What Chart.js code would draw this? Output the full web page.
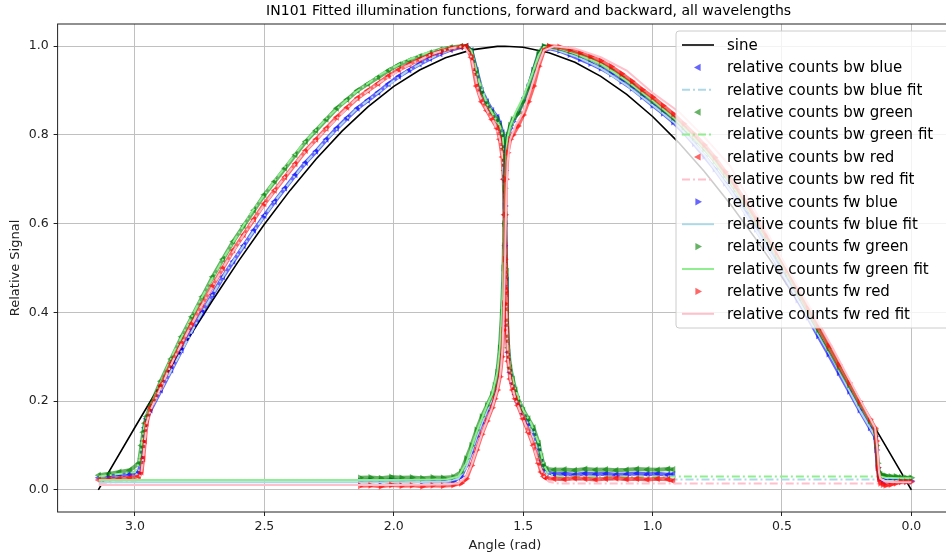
<!DOCTYPE html>
<html>
<head>
<meta charset="utf-8">
<script src="https://cdn.jsdelivr.net/npm/chart.js@4.4.1/dist/chart.umd.min.js"></script>
<style>
  html, body { margin: 0; padding: 0; overflow: hidden; background: #fff; }
</style>
</head>
<body>
<canvas id="illumChart" width="956" height="559"></canvas>
<script>
// ---- data ----
const xTicks = [0, 0.5, 1.0, 1.5, 2.0, 2.5, 3.0];
const yTicks = [0, 0.2, 0.4, 0.6, 0.8, 1.0];

const sineX = [3.1416, 3.0, 2.9, 2.8, 2.7, 2.6, 2.5, 2.4, 2.3, 2.2, 2.1, 2.0, 1.9, 1.8, 1.7, 1.6, 1.5708, 1.5, 1.4, 1.3, 1.2, 1.1, 1.0, 0.9, 0.8, 0.7, 0.6, 0.5, 0.4, 0.3, 0.2, 0.1, 0.0];
const sineY = [0.0, 0.1411, 0.2392, 0.3350, 0.4274, 0.5155, 0.5985, 0.6755, 0.7457, 0.8085, 0.8632, 0.9093, 0.9463, 0.9738, 0.9917, 0.9996, 1.0, 0.9975, 0.9854, 0.9636, 0.9320, 0.8912, 0.8415, 0.7833, 0.7174, 0.6442, 0.5646, 0.4794, 0.3894, 0.2955, 0.1987, 0.0998, 0.0];

// backward scan (left-pointing markers)
const bwX = [3.14, 3.10, 3.06, 3.02, 2.985, 2.975, 2.968, 2.962, 2.955,
  2.94, 2.90, 2.86, 2.82, 2.78, 2.74, 2.70, 2.66, 2.62, 2.58, 2.54, 2.50, 2.46, 2.42, 2.38, 2.34, 2.30, 2.26, 2.22, 2.18, 2.14, 2.10, 2.06, 2.02, 1.98, 1.94, 1.90, 1.86, 1.82, 1.78, 1.74, 1.72,
  1.70, 1.68, 1.66, 1.64, 1.62, 1.60, 1.59, 1.58, 1.575, 1.572,
  1.569, 1.566, 1.563, 1.558, 1.55, 1.54, 1.53, 1.52, 1.50, 1.48, 1.46, 1.44, 1.43, 1.42, 1.41,
  1.38, 1.34, 1.30, 1.26, 1.22, 1.18, 1.14, 1.10, 1.06, 1.02, 0.98, 0.94, 0.92];
const bwBlue = [0.027, 0.03, 0.032, 0.035, 0.04, 0.07, 0.11, 0.14, 0.16,
  0.18, 0.225, 0.27, 0.315, 0.36, 0.40, 0.44, 0.48, 0.515, 0.55, 0.585, 0.618, 0.65, 0.68, 0.71, 0.738, 0.763, 0.79, 0.815, 0.838, 0.86, 0.878, 0.896, 0.915, 0.932, 0.946, 0.96, 0.972, 0.983, 0.992, 0.998, 1.0,
  0.99, 0.945, 0.90, 0.875, 0.855, 0.84, 0.825, 0.805, 0.775, 0.70,
  0.60, 0.48, 0.38, 0.31, 0.265, 0.24, 0.215, 0.198, 0.172, 0.15, 0.13, 0.095, 0.065, 0.048, 0.04,
  0.035, 0.036, 0.034, 0.037, 0.035, 0.036, 0.034, 0.035, 0.037, 0.035, 0.036, 0.034, 0.035];
const bwGreen = [0.033, 0.036, 0.04, 0.044, 0.06, 0.10, 0.13, 0.15, 0.165,
  0.19, 0.245, 0.295, 0.345, 0.39, 0.435, 0.48, 0.52, 0.56, 0.595, 0.63, 0.665, 0.695, 0.725, 0.755, 0.785, 0.81, 0.835, 0.86, 0.88, 0.90, 0.915, 0.93, 0.945, 0.958, 0.968, 0.977, 0.985, 0.992, 0.997, 1.0, 1.0,
  0.99, 0.94, 0.895, 0.87, 0.85, 0.835, 0.82, 0.80, 0.77, 0.72,
  0.62, 0.50, 0.40, 0.32, 0.275, 0.25, 0.225, 0.205, 0.18, 0.16, 0.14, 0.105, 0.075, 0.055, 0.047,
  0.045, 0.046, 0.044, 0.047, 0.045, 0.046, 0.044, 0.045, 0.047, 0.046, 0.045, 0.047, 0.046];
const bwRed = [0.022, 0.024, 0.025, 0.027, 0.03, 0.04, 0.07, 0.11, 0.15,
  0.185, 0.235, 0.285, 0.33, 0.375, 0.418, 0.46, 0.50, 0.54, 0.575, 0.61, 0.645, 0.675, 0.705, 0.735, 0.765, 0.79, 0.815, 0.84, 0.862, 0.883, 0.90, 0.916, 0.933, 0.947, 0.959, 0.97, 0.98, 0.988, 0.995, 0.999, 1.0,
  0.975, 0.91, 0.875, 0.855, 0.835, 0.815, 0.79, 0.75, 0.70, 0.62,
  0.55, 0.45, 0.36, 0.29, 0.25, 0.225, 0.205, 0.19, 0.16, 0.13, 0.10, 0.06, 0.04, 0.03, 0.026,
  0.025, 0.024, 0.026, 0.025, 0.023, 0.025, 0.026, 0.024, 0.025, 0.023, 0.025, 0.024, 0.02];

const bwFitX = [3.14, 3.0, 2.985, 2.975, 2.965, 2.955, 2.94, 2.85, 2.75, 2.65, 2.55, 2.45, 2.35, 2.25, 2.15, 2.05, 1.95, 1.85, 1.78, 1.73, 1.70, 1.67, 1.64, 1.61, 1.59, 1.58, 1.575, 1.57, 1.565, 1.56, 1.55, 1.53, 1.50, 1.47, 1.44, 1.42, 1.40, 1.36, 1.2, 0.9, 0.6, 0.3, 0.0];
const bwBlueFit = [0.025, 0.03, 0.04, 0.07, 0.12, 0.16, 0.18, 0.28, 0.39, 0.49, 0.576, 0.658, 0.731, 0.796, 0.855, 0.90, 0.943, 0.975, 0.992, 1.0, 0.99, 0.925, 0.875, 0.848, 0.825, 0.805, 0.775, 0.68, 0.46, 0.32, 0.265, 0.215, 0.172, 0.137, 0.085, 0.045, 0.028, 0.023, 0.023, 0.023, 0.023, 0.023, 0.023];
const bwGreenFit = [0.03, 0.04, 0.06, 0.10, 0.14, 0.165, 0.19, 0.31, 0.425, 0.53, 0.625, 0.705, 0.78, 0.843, 0.895, 0.937, 0.968, 0.99, 0.998, 1.0, 0.99, 0.92, 0.87, 0.84, 0.82, 0.80, 0.77, 0.68, 0.48, 0.34, 0.275, 0.225, 0.18, 0.15, 0.105, 0.055, 0.035, 0.03, 0.03, 0.03, 0.03, 0.03, 0.03];
const bwRedFit = [0.015, 0.02, 0.025, 0.04, 0.09, 0.15, 0.18, 0.295, 0.407, 0.51, 0.602, 0.683, 0.758, 0.82, 0.878, 0.92, 0.955, 0.983, 0.995, 1.0, 0.975, 0.89, 0.855, 0.825, 0.79, 0.75, 0.70, 0.58, 0.42, 0.30, 0.25, 0.205, 0.16, 0.115, 0.06, 0.03, 0.018, 0.014, 0.014, 0.014, 0.014, 0.014, 0.014];

// forward scan (right-pointing markers)
const fwX = [2.13, 2.09, 2.05, 2.01, 1.97, 1.93, 1.89, 1.85, 1.81, 1.77,
  1.74, 1.72, 1.70, 1.68, 1.66, 1.64, 1.62, 1.61, 1.60, 1.59, 1.582, 1.576, 1.573, 1.571, 1.569, 1.566,
  1.56, 1.55, 1.54, 1.52, 1.50, 1.48, 1.46, 1.44,
  1.42, 1.40, 1.36, 1.32, 1.28, 1.24, 1.20, 1.16, 1.12, 1.08, 1.04, 1.00, 0.96, 0.92, 0.88, 0.84, 0.80, 0.76, 0.72, 0.68, 0.64, 0.60, 0.56, 0.52, 0.48, 0.44, 0.40, 0.36, 0.32, 0.28, 0.24, 0.20, 0.16, 0.14,
  0.135, 0.13, 0.125, 0.12, 0.11, 0.10, 0.08, 0.06, 0.04, 0.02, 0.0];
const fwBlue = [0.02, 0.021, 0.019, 0.022, 0.02, 0.021, 0.019, 0.02, 0.021, 0.02,
  0.03, 0.055, 0.085, 0.12, 0.15, 0.178, 0.205, 0.225, 0.255, 0.30, 0.37, 0.46, 0.55, 0.64, 0.72, 0.77,
  0.795, 0.815, 0.83, 0.852, 0.878, 0.908, 0.945, 0.98,
  0.998, 0.995, 0.99, 0.981, 0.971, 0.961, 0.95, 0.937, 0.921, 0.905, 0.886, 0.867, 0.849, 0.829, 0.806, 0.78, 0.752, 0.723, 0.691, 0.659, 0.624, 0.587, 0.549, 0.51, 0.47, 0.428, 0.389, 0.347, 0.306, 0.264, 0.222, 0.18, 0.14, 0.12,
  0.09, 0.05, 0.03, 0.025, 0.022, 0.02, 0.02, 0.02, 0.02, 0.02, 0.02];
const fwGreen = [0.027, 0.028, 0.026, 0.029, 0.027, 0.028, 0.026, 0.028, 0.027, 0.029,
  0.04, 0.07, 0.10, 0.135, 0.165, 0.19, 0.215, 0.235, 0.265, 0.32, 0.40, 0.50, 0.60, 0.68, 0.75, 0.785,
  0.80, 0.822, 0.835, 0.848, 0.875, 0.905, 0.945, 0.985,
  1.0, 0.999, 0.995, 0.988, 0.98, 0.971, 0.96, 0.947, 0.931, 0.914, 0.895, 0.877, 0.858, 0.839, 0.817, 0.794, 0.769, 0.741, 0.709, 0.677, 0.641, 0.603, 0.565, 0.527, 0.487, 0.445, 0.403, 0.361, 0.319, 0.277, 0.236, 0.195, 0.155, 0.135,
  0.10, 0.06, 0.04, 0.035, 0.033, 0.032, 0.03, 0.03, 0.028, 0.027, 0.027];
const fwRed = [0.009, 0.01, 0.008, 0.011, 0.009, 0.01, 0.008, 0.01, 0.009, 0.011,
  0.015, 0.025, 0.055, 0.09, 0.125, 0.155, 0.185, 0.205, 0.225, 0.255, 0.30, 0.36, 0.42, 0.52, 0.62, 0.70,
  0.76, 0.79, 0.80, 0.82, 0.845, 0.875, 0.91, 0.955,
  0.99, 1.0, 0.998, 0.992, 0.985, 0.977, 0.967, 0.954, 0.938, 0.921, 0.902, 0.885, 0.866, 0.847, 0.825, 0.802, 0.777, 0.749, 0.717, 0.685, 0.649, 0.611, 0.573, 0.535, 0.495, 0.452, 0.409, 0.367, 0.325, 0.282, 0.241, 0.199, 0.159, 0.139,
  0.11, 0.05, 0.025, 0.015, 0.012, 0.01, 0.012, 0.015, 0.018, 0.018, 0.018];

const fwFitX = [3.14, 2.5, 2.0, 1.80, 1.75, 1.72, 1.70, 1.68, 1.66, 1.64, 1.62, 1.60, 1.59, 1.585, 1.58, 1.575, 1.57, 1.565, 1.56, 1.55, 1.53, 1.50, 1.47, 1.44, 1.42, 1.38, 1.3, 1.2, 1.1, 1.0, 0.9, 0.8, 0.7, 0.6, 0.5, 0.4, 0.3, 0.2, 0.16, 0.14, 0.13, 0.125, 0.12, 0.1, 0.05, 0.0];
const fwBlueFit = [0.017, 0.017, 0.017, 0.018, 0.025, 0.05, 0.085, 0.12, 0.15, 0.178, 0.205, 0.255, 0.30, 0.35, 0.42, 0.52, 0.65, 0.745, 0.785, 0.812, 0.842, 0.878, 0.925, 0.975, 0.996, 0.993, 0.978, 0.95, 0.912, 0.867, 0.82, 0.755, 0.675, 0.585, 0.49, 0.39, 0.29, 0.18, 0.14, 0.12, 0.07, 0.035, 0.025, 0.02, 0.02, 0.02];
const fwGreenFit = [0.022, 0.022, 0.022, 0.023, 0.03, 0.06, 0.095, 0.13, 0.16, 0.19, 0.215, 0.265, 0.32, 0.37, 0.44, 0.55, 0.68, 0.765, 0.795, 0.82, 0.85, 0.885, 0.93, 0.98, 0.998, 0.998, 0.984, 0.96, 0.922, 0.878, 0.83, 0.77, 0.695, 0.605, 0.508, 0.405, 0.30, 0.197, 0.157, 0.136, 0.08, 0.04, 0.03, 0.027, 0.026, 0.026];
const fwRedFit = [0.011, 0.011, 0.011, 0.012, 0.015, 0.03, 0.055, 0.09, 0.125, 0.155, 0.185, 0.225, 0.255, 0.28, 0.32, 0.40, 0.52, 0.66, 0.74, 0.79, 0.82, 0.85, 0.905, 0.96, 0.99, 1.0, 0.995, 0.975, 0.945, 0.895, 0.853, 0.795, 0.73, 0.625, 0.52, 0.42, 0.315, 0.205, 0.162, 0.14, 0.085, 0.04, 0.025, 0.018, 0.017, 0.017];

const chartTitle = 'IN101 Fitted illumination functions, forward and backward, all wavelengths';

// ---- helpers ----
function pts(xs, ys) {
    return xs.map((x, i) => ({ x: x, y: ys[i] }));
}

const BLUE = 'rgba(0, 0, 255, 0.6)';
const GREEN = 'rgba(0, 128, 0, 0.6)';
const RED = 'rgba(255, 0, 0, 0.6)';
const DASHDOT = [8, 3, 2, 3];

function markerSet(label, xs, ys, color, rot) {
    return {
        label: label, data: pts(xs, ys), kind: 'marker',
        showLine: true, borderColor: color, borderWidth: 4,
        pointStyle: 'triangle', rotation: rot, pointRadius: 4,
        pointBackgroundColor: color, pointBorderWidth: 0
    };
}
function fitSet(label, xs, ys, color, dash) {
    return {
        label: label, data: pts(xs, ys), kind: 'line',
        showLine: true, borderColor: color, borderWidth: 2,
        borderDash: dash, pointRadius: 0
    };
}

const datasets = [
    { label: 'sine', data: pts(sineX, sineY), kind: 'line', showLine: true, borderColor: '#000', borderWidth: 1.6, pointRadius: 0 },
    markerSet('relative counts bw blue', bwX, bwBlue, BLUE, -90),
    fitSet('relative counts bw blue fit', bwFitX, bwBlueFit, '#add8e6', DASHDOT),
    markerSet('relative counts bw green', bwX, bwGreen, GREEN, -90),
    fitSet('relative counts bw green fit', bwFitX, bwGreenFit, '#90ee90', DASHDOT),
    markerSet('relative counts bw red', bwX, bwRed, RED, -90),
    fitSet('relative counts bw red fit', bwFitX, bwRedFit, '#ffc0cb', DASHDOT),
    markerSet('relative counts fw blue', fwX, fwBlue, BLUE, 90),
    fitSet('relative counts fw blue fit', fwFitX, fwBlueFit, '#add8e6', []),
    markerSet('relative counts fw green', fwX, fwGreen, GREEN, 90),
    fitSet('relative counts fw green fit', fwFitX, fwGreenFit, '#90ee90', []),
    markerSet('relative counts fw red', fwX, fwRed, RED, 90),
    fitSet('relative counts fw red fit', fwFitX, fwRedFit, '#ffc0cb', [])
];
// later datasets on top, like the original plot
datasets.forEach((d, i) => { d.order = datasets.length - i; d.tension = 0; });

// frame around the axes, title and legend box
const framePlugin = {
    id: 'frame',
    afterDatasetsDraw(chart) {
        const ctx = chart.ctx, ca = chart.chartArea;
        ctx.save();
        ctx.strokeStyle = '#222';
        ctx.lineWidth = 1;
        ctx.strokeRect(ca.left, ca.top, ca.right - ca.left, ca.bottom - ca.top);
        ctx.restore();
    },
    afterDraw(chart) {
        const ctx = chart.ctx, ca = chart.chartArea;
        ctx.save();
        // title
        ctx.fillStyle = '#000';
        ctx.font = '14px "DejaVu Sans"';
        ctx.textAlign = 'center';
        ctx.textBaseline = 'middle';
        ctx.fillText(chartTitle, ca.left + 471, 11);

        // legend
        const x0 = ca.right - 276, y0 = ca.top + 7, w = 300, h = 297;
        ctx.beginPath();
        ctx.roundRect(x0, y0, w, h, 3);
        ctx.fillStyle = 'rgba(255,255,255,0.8)';
        ctx.fill();
        ctx.strokeStyle = '#cccccc';
        ctx.lineWidth = 1;
        ctx.stroke();
        ctx.font = '15px "DejaVu Sans"';
        ctx.textAlign = 'left';
        chart.data.datasets.forEach((d, i) => {
            const yc = y0 + 14 + i * 22.4;
            if (d.kind === 'marker') {
                ctx.save();
                ctx.translate(x0 + 22, yc);
                ctx.rotate(d.rotation * Math.PI / 180);
                ctx.beginPath();
                ctx.moveTo(0, -4);
                ctx.lineTo(3.6, 2.6);
                ctx.lineTo(-3.6, 2.6);
                ctx.closePath();
                ctx.fillStyle = d.pointBackgroundColor;
                ctx.fill();
                ctx.restore();
            } else {
                ctx.save();
                ctx.strokeStyle = d.borderColor;
                ctx.lineWidth = d.borderWidth;
                ctx.setLineDash(d.borderDash || []);
                ctx.beginPath();
                ctx.moveTo(x0 + 6, yc);
                ctx.lineTo(x0 + 38, yc);
                ctx.stroke();
                ctx.restore();
            }
            ctx.fillStyle = '#000';
            ctx.fillText(d.label, x0 + 51, yc + 1);
        });
        ctx.restore();
    }
};

Chart.defaults.font.family = '"DejaVu Sans", sans-serif';
Chart.defaults.color = '#222';

new Chart(document.getElementById('illumChart'), {
    type: 'scatter',
    data: { datasets: datasets },
    options: {
        responsive: false,
        animation: false,
        events: [],
        layout: { padding: { top: 24, right: 2, left: 0, bottom: 0 } },
        plugins: { legend: { display: false }, tooltip: { enabled: false } },
        scales: {
            x: {
                type: 'linear', reverse: true, min: -0.157, max: 3.299,
                afterBuildTicks: axis => { axis.ticks = xTicks.map(v => ({ value: v })); },
                afterFit: axis => { axis.height = 47; },
                ticks: { callback: v => v.toFixed(1), font: { size: 12.5 }, padding: 3, maxRotation: 0 },
                grid: { color: '#c0c0c0', lineWidth: 1, tickColor: '#222', tickLength: 4 },
                border: { display: false },
                title: { display: true, text: 'Angle (rad)', font: { size: 13 }, padding: { top: 2, bottom: 6 } }
            },
            y: {
                type: 'linear', min: -0.05, max: 1.05,
                afterBuildTicks: axis => { axis.ticks = yTicks.map(v => ({ value: v })); },
                afterFit: axis => { axis.width = 57.6; },
                ticks: { callback: v => v.toFixed(1), font: { size: 12.5 }, padding: 5 },
                grid: { color: '#c0c0c0', lineWidth: 1, tickColor: '#222', tickLength: 4 },
                border: { display: false },
                title: { display: true, text: 'Relative Signal', font: { size: 13 }, padding: { top: 8, bottom: 2 } }
            }
        }
    },
    plugins: [framePlugin]
});
</script>
</body>
</html>
